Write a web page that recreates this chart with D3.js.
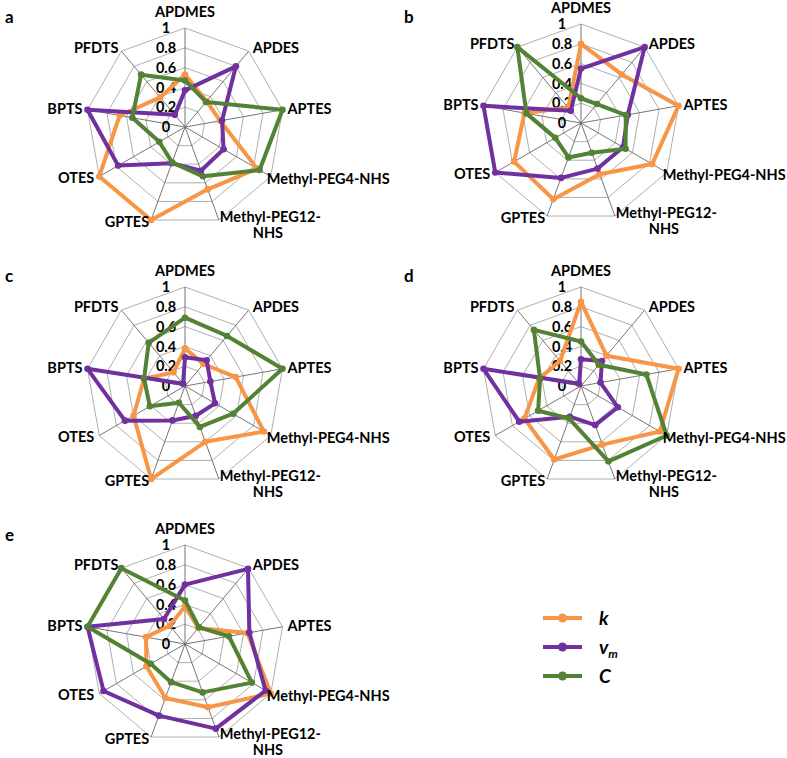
<!DOCTYPE html>
<html><head><meta charset="utf-8">
<script src="https://cdn.jsdelivr.net/npm/d3@7"></script>
<style>
html,body{margin:0;padding:0;background:#fff;}
text{font-family:Lato,"Open Sans",sans-serif;font-weight:bold;fill:#000;}
</style></head>
<body><svg id="chart" width="787" height="758"></svg>
<script>
const categories = ["APDMES","APDES","APTES","Methyl-PEG4-NHS","Methyl-PEG12-NHS","GPTES","OTES","BPTS","PFDTS"];
const tickValues = [0,0.2,0.4,0.6,0.8,1];
const tickLabels = ["0","0.2","0.4","0.6","0.8","1"];
const panelNames = ["a","b","c","d","e"];
const seriesNames = ["k","vm","C"];
const seriesColors = ["#F79646","#7030A0","#548235"];

const aK  = [0.53,0.34,0.36,0.84,0.67,1.00,1.00,0.67,0.39];
const aVm = [0.37,0.80,0.38,0.45,0.47,0.39,0.78,1.00,0.16];
const aC  = [0.47,0.33,1.00,0.87,0.53,0.38,0.30,0.54,0.69];

const bK  = [0.80,0.64,1.00,0.83,0.55,0.82,0.78,0.58,0.20];
const bVm = [0.55,1.00,0.48,0.49,0.49,0.59,1.00,1.00,0.16];
const bC  = [0.25,0.25,0.46,0.52,0.32,0.37,0.30,0.56,1.00];

const cK  = [0.38,0.29,0.52,0.92,0.60,1.00,0.60,0.42,0.18];
const cVm = [0.29,0.34,0.26,0.35,0.32,0.37,0.70,1.00,0.03];
const cC  = [0.69,0.66,1.00,0.56,0.44,0.18,0.41,0.42,0.57];

const dK  = [0.85,0.40,1.00,0.92,0.63,0.79,0.66,0.43,0.33];
const dVm = [0.27,0.33,0.20,0.43,0.42,0.33,0.72,1.00,0.03];
const dC  = [0.45,0.28,0.67,1.00,0.81,0.35,0.50,0.42,0.74];

const eK  = [0.38,0.21,0.64,1.00,0.68,0.58,0.45,0.40,0.24];
const eVm = [0.60,0.99,0.66,0.94,0.91,0.77,0.95,1.00,0.33];
const eC  = [0.44,0.22,0.45,0.78,0.52,0.41,0.40,1.00,1.00];

const panelData = [[aK,aVm,aC],[bK,bVm,bC],[cK,cVm,cC],[dK,dVm,dC],[eK,eVm,eC]];

const svg = d3.select("#chart");
const R = 99;
const centers = [[185,127],[581,123],[185,386],[581,386],[185,644]];
const labelPos = [[5,18],[404,18],[5,277],[404,277],[5,536]];
// label offsets (anchor, dx, dy) relative to the end of each spoke
const labelLayout = [["middle",0,-16],["start",4,-3],["start",5,-1.5],["start",-4,2.5],["start",1,-3.5],
                     ["end",-2,2],["end",-5,1],["end",-5,-1.5],["end",-3,-3]];

const rScale = d3.scaleLinear().domain([0,1]).range([0,R]);
const aScale = d3.scaleLinear().domain([0,categories.length]).range([0,2*Math.PI]);
const px = (i,v)=> rScale(v)*Math.sin(aScale(i));
const py = (i,v)=> -rScale(v)*Math.cos(aScale(i));

panelData.forEach((series,p)=>{
  const [cx,cy] = centers[p];
  const g = svg.append("g").attr("transform",`translate(${cx},${cy})`);
  svg.append("text").attr("x",labelPos[p][0]).attr("y",labelPos[p][1]+5)
     .attr("font-size",17).text(panelNames[p]);
  tickValues.slice(1).forEach(t=>{
    g.append("path")
     .attr("d", d3.lineRadial().angle((d,i)=>aScale(i)).radius(()=>rScale(t)).curve(d3.curveLinearClosed)(categories))
     .attr("fill","none").attr("stroke","#a6a6a6").attr("stroke-width",0.9);
  });
  categories.forEach((c,i)=>{
    g.append("line").attr("x1",0).attr("y1",0).attr("x2",px(i,1)).attr("y2",py(i,1))
     .attr("stroke","#666").attr("stroke-width",0.9);
  });
  tickValues.forEach((t,k)=>{
    g.append("text").attr("x",-19).attr("y",-rScale(t)).attr("dy","0.36em")
     .attr("text-anchor","middle").attr("font-size",14.5).text(tickLabels[k]);
  });
  series.forEach((vals,s)=>{
    g.append("path")
     .attr("d", d3.lineRadial().angle((d,i)=>aScale(i)).radius(d=>rScale(d)).curve(d3.curveLinearClosed)(vals))
     .attr("fill","none").attr("stroke",seriesColors[s]).attr("stroke-width",4)
     .attr("stroke-linejoin","round");
    g.selectAll(null).data(vals).enter().append("circle")
     .attr("cx",(d,i)=>px(i,d)).attr("cy",(d,i)=>py(i,d)).attr("r",3.3)
     .attr("fill",seriesColors[s]);
  });
  categories.forEach((c,i)=>{
    const [anchor,dx,dy] = labelLayout[i];
    const x = px(i,1)+dx, y = py(i,1)+dy;
    const t = g.append("text").attr("x",x).attr("y",y).attr("dy","0.36em")
      .attr("text-anchor",anchor).attr("font-size",14.5);
    if(c==="Methyl-PEG12-NHS"){
      t.append("tspan").attr("x",x).text("Methyl-PEG12-");
      t.append("tspan").attr("x",x+48).attr("dy","1.1em").attr("text-anchor","middle").text("NHS");
    } else t.text(c);
  });
});

const lg = svg.append("g").attr("transform","translate(543,618)");
const legendLabels = [["k",""],["v","m"],["C",""]];
seriesColors.forEach((col,i)=>{
  const y = i*29;
  lg.append("line").attr("x1",0).attr("x2",39).attr("y1",y).attr("y2",y).attr("stroke",col).attr("stroke-width",4);
  lg.append("circle").attr("cx",19.5).attr("cy",y).attr("r",4.5).attr("fill",col);
  const t = lg.append("text").attr("x",56).attr("y",y).attr("dy","0.36em")
     .attr("font-size",19).attr("font-style","italic");
  t.append("tspan").text(legendLabels[i][0]);
  if(legendLabels[i][1]) t.append("tspan").attr("dy","0.35em").attr("font-size",12).text(legendLabels[i][1]);
});
</script></body></html>
